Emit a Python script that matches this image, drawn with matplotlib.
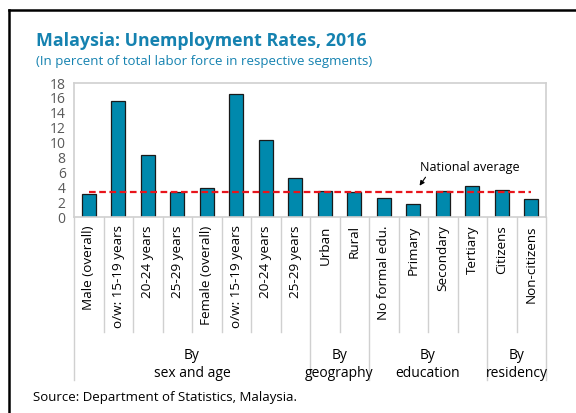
"""Malaysia unemployment rates bar chart"""
import matplotlib
matplotlib.use("Agg")
import matplotlib.pyplot as plt
import matplotlib.transforms as mtrans
import numpy as np

plt.rcParams['font.family'] = ['Open Sans', 'DejaVu Sans']

categories = ["Male (overall)", "o/w: 15-19 years", "20-24 years", "25-29 years",
              "Female (overall)", "o/w: 15-19 years", "20-24 years", "25-29 years",
              "Urban", "Rural",
              "No formal edu.", "Primary", "Secondary", "Tertiary",
              "Citizens", "Non-citizens"]
rates = [3.1, 15.6, 8.3, 3.3, 3.9, 16.5, 10.3, 5.3,
         3.5, 3.3, 2.55, 1.75, 3.5, 4.2, 3.6, 2.45]
national_avg = 3.4
groups = ["By\nsex and age", "By\ngeography", "By\neducation", "By\nresidency"]
group_sizes = [8, 2, 4, 2]

bar_color = '#0089AD'
grid_gray = '#D0D0D0'
text_gray = '#595959'

fig = plt.figure(figsize=(5.76, 4.13), dpi=100)
ax = fig.add_axes([74/576, 1-217/413, 472/576, 134/413])

x = np.arange(len(categories))
ax.bar(x, rates, width=0.48, color=bar_color, edgecolor='#1a1a1a', linewidth=0.9, zorder=2)
ax.plot([0, len(categories)-1], [national_avg, national_avg], color='#E8141B',
        lw=1.6, dashes=(3, 1.6), zorder=3)

ax.set_xlim(-0.5, len(categories)-0.5)
ax.set_ylim(0, 18)
ax.set_yticks(np.arange(0, 19, 2))
ax.tick_params(axis='y', length=0, labelsize=10, labelcolor=text_gray, pad=6)
ax.set_xticks(x)
ax.set_xticklabels(categories, rotation=90, va='top', ha='center', fontsize=9.7)
ax.tick_params(axis='x', length=0, pad=6)
for s in ax.spines.values():
    s.set_color(grid_gray)
    s.set_linewidth(1.2)

# category separators below the axis
trans = mtrans.blended_transform_factory(ax.transData, ax.transAxes)
bounds = np.cumsum([0] + group_sizes) - 0.5
for b in np.arange(-0.5, len(categories)):
    bottom = -1.216 if b in bounds else -0.858
    ax.plot([b, b], [0, bottom], transform=trans, color=grid_gray, lw=1, clip_on=False)

for i, g in enumerate(groups):
    c = (bounds[i] + bounds[i+1]) / 2
    ax.text(c, -1.1, g, transform=trans, ha='center', va='center', fontsize=10,
            linespacing=1.25)

ax.annotate('', xy=(11.16, 3.9), xytext=(11.47, 5.65),
            arrowprops=dict(arrowstyle='-|>', color='black', lw=0.8, mutation_scale=7))
ax.text(11.23, 6.7, 'National average', fontsize=9, va='center', ha='left')

fig.text(36/576, 1-46/413, 'Malaysia: Unemployment Rates, 2016', fontsize=12.8,
         fontweight='bold', color='#1582B0', va='baseline')
fig.text(36/576, 1-65/413, '(In percent of total labor force in respective segments)',
         fontsize=9.5, color='#1582B0', va='baseline')
fig.text(33/576, 1-398/413, 'Source: Department of Statistics, Malaysia.', fontsize=9.5,
         va='center')

# frame (top and left edges)
fig.add_artist(plt.Line2D([9/576, 9/576], [0, 1-9.5/413], transform=fig.transFigure,
                          color='black', lw=1.8))
fig.add_artist(plt.Line2D([9/576, 1], [1-9.5/413, 1-9.5/413], transform=fig.transFigure,
                          color='black', lw=1.8))

fig.savefig('out.png', dpi=100)
